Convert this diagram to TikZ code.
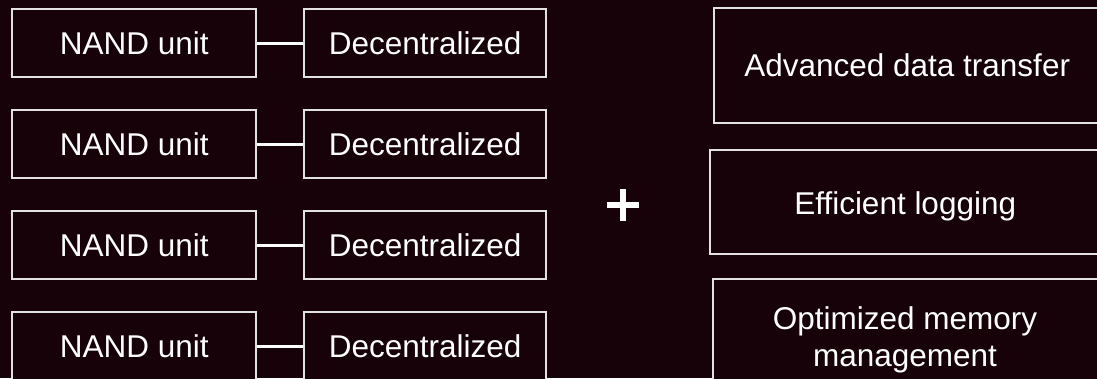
\documentclass[tikz,border=0pt]{standalone}
\usepackage{fontspec}
\setmainfont{Liberation Sans}
\definecolor{bgc}{RGB}{22,2,8}
\definecolor{edge}{RGB}{226,226,226}
\begin{document}
\begin{tikzpicture}[x=1pt,y=-1pt,
  box/.style={draw=edge, line width=2.4pt, fill=bgc, text=white, anchor=north west,
    inner sep=0pt, align=center, font=\fontsize{31.5}{36.5}\selectfont},
  leftbox/.style={box, minimum width=244pt, minimum height=68pt},
  midbox/.style={box, minimum width=242pt, minimum height=68pt},
  link/.style={draw=white, line width=3pt},
  plusbar/.style={draw=white, line width=5.5pt}]
\fill[bgc] (0,0) rectangle (1097,378);
\useasboundingbox (0,0) rectangle (1097,378);
\clip (0,0) rectangle (1097,378);
\foreach \i/\t in {1/8,2/109,3/210,4/311}{
  \node[leftbox] (n\i) at (11,\t) {NAND unit};
  \node[midbox] (d\i) at (303,\t) {Decentralized};
  \draw[link] (n\i.east) -- (d\i.west);
}
\node[box, minimum width=386pt, minimum height=115pt] (adv) at (713,7) {Advanced data transfer};
\node[box, minimum width=390pt, minimum height=104pt, text height=24pt, text depth=0pt] (eff) at (709,149) {Efficient logging};
\node[box, minimum width=387pt, minimum height=134pt] (opt) at (712,278) {};
\node[text=white, font=\fontsize{31.5}{37}\selectfont, align=center, inner sep=0pt] (optt) at (905,340) {Optimized memory\\management};
\coordinate (plus) at (623,205);
\draw[plusbar] ([xshift=-16pt]plus) -- ([xshift=16pt]plus);
\draw[plusbar] ([yshift=-16pt]plus) -- ([yshift=16pt]plus);
\end{tikzpicture}
\end{document}
